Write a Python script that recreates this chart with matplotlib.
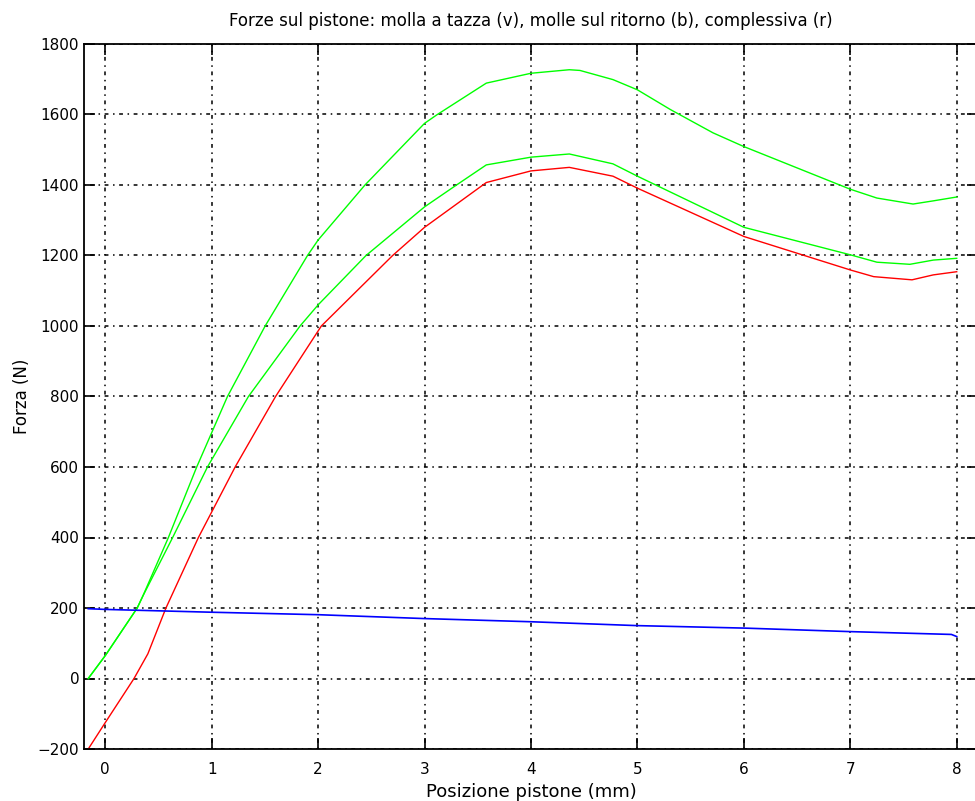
import matplotlib
matplotlib.use('Agg')
import matplotlib.pyplot as plt
import numpy as np

# Curve readings (position in mm, force in N)
x_g1 = [-0.16, 0.0, 0.3, 0.35, 0.593, 0.859, 1.148, 1.502, 1.9, 2.0, 2.44, 3.0, 3.12, 3.58,
        4.0, 4.36, 4.46, 4.77, 5.0, 5.31, 5.71, 6.0, 7.0, 7.25, 7.59, 7.78, 8.0]
f_g1 = [0, 65, 200, 232, 400, 600, 800, 1000, 1200, 1244, 1400, 1575, 1600, 1689,
        1717, 1727, 1725, 1699, 1670, 1614, 1548, 1509, 1388, 1363, 1346, 1355, 1366]

x_g2 = [-0.16, 0.0, 0.3, 0.35, 0.633, 0.96, 1.345, 1.83, 2.0, 2.45, 3.0, 3.3, 3.58,
        4.0, 4.36, 4.77, 5.0, 6.0, 7.0, 7.25, 7.56, 7.78, 8.0]
f_g2 = [0, 65, 200, 232, 400, 600, 800, 1000, 1060, 1200, 1338, 1400, 1457,
        1479, 1488, 1460, 1425, 1280, 1202, 1181, 1175, 1187, 1192]

x_r = [-0.16, 0.0, 0.27, 0.4, 0.57, 0.875, 1.22, 1.6, 2.03, 2.7, 3.0, 3.58, 4.0, 4.36,
       4.77, 5.0, 6.0, 7.0, 7.22, 7.58, 7.78, 8.0]
f_r = [-200, -125, 0, 70, 200, 400, 600, 800, 1000, 1200, 1280, 1407, 1440, 1450,
       1425, 1391, 1254, 1159, 1140, 1131, 1145, 1154]

x_b = [-0.16, 0.0, 1.0, 2.0, 3.0, 4.0, 5.0, 6.0, 7.0, 7.95, 8.0]
f_b = [198, 196, 188, 181, 170, 161, 150, 143, 133, 125, 119]

xticks = [0, 1, 2, 3, 4, 5, 6, 7, 8]
yticks = [-200, 0, 200, 400, 600, 800, 1000, 1200, 1400, 1600, 1800]

plt.rcParams['font.family'] = ['DejaVu Sans']

fig = plt.figure(figsize=(9.75, 8.01), dpi=100)
ax = fig.add_axes([84 / 975, 1 - 749 / 801, (978 - 84) / 975, 705 / 801])

ax.plot(x_g1, f_g1, color=(0, 1, 0), lw=1)
ax.plot(x_g2, f_g2, color=(0, 1, 0), lw=1)
ax.plot(x_r, f_r, color=(1, 0, 0), lw=1)
ax.plot(x_b, f_b, color=(0, 0, 1), lw=1.2)

ax.set_xlim(-0.2, 8.2)
ax.set_ylim(-200, 1800)
ax.set_xticks(xticks)
ax.set_yticks(yticks)
ax.grid(True, color='black', linestyle=(0, (1, 3, 2.5, 3)), linewidth=1.1)
ax.tick_params(direction='in', length=8, width=1.2, top=True, right=True, labelsize=11)
ax.tick_params(axis='x', pad=9.5)
ax.tick_params(axis='y', pad=3.5)
for s in ax.spines.values():
    s.set_linewidth(1.3)

ax.set_title('Forze sul pistone: molla a tazza (v), molle sul ritorno (b), complessiva (r)',
             fontsize=12, pad=13)
ax.set_xlabel('Posizione pistone (mm)', fontsize=13, labelpad=4)
ax.set_ylabel('Forza (N)', fontsize=12, labelpad=5)

fig.savefig('out.png', dpi=100)
